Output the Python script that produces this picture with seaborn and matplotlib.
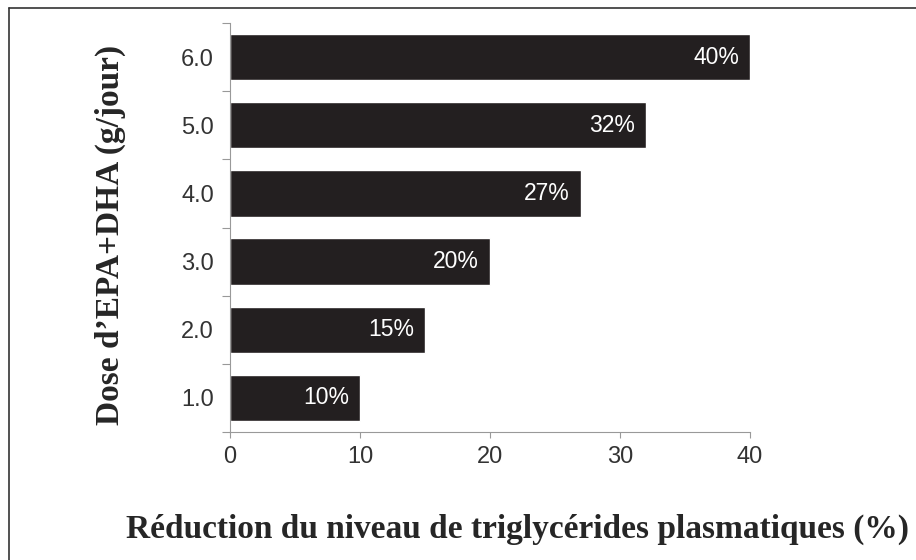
import matplotlib
matplotlib.use("Agg")
import matplotlib.pyplot as plt
from matplotlib.lines import Line2D
import seaborn as sns
import pandas as pd

# data
doses = ["6.0", "5.0", "4.0", "3.0", "2.0", "1.0"]
reduction = [40, 32, 27, 20, 15, 10]
bar_labels = ["40%", "32%", "27%", "20%", "15%", "10%"]
x_ticks = [0, 10, 20, 30, 40]

df = pd.DataFrame({"dose": doses, "reduction": reduction})

sns.set_style("white")
plt.rcParams["font.family"] = ["Liberation Sans", "DejaVu Sans"]

fig = plt.figure(figsize=(9.16, 5.6), dpi=100)
ax = fig.add_axes([230 / 916, 1 - 432 / 560, 520 / 916, 409 / 560])

sns.barplot(data=df, x="reduction", y="dose", order=doses, color="#231f20",
            saturation=1, width=0.68, orient="h", ax=ax)

for p, lab in zip(ax.patches, bar_labels):
    ax.text(p.get_x() + p.get_width() - 0.85, p.get_y() + p.get_height() / 2, lab,
            color="white", fontsize=16.5, ha="right", va="center")

ax.set_xlim(0, 40)
ax.set_ylim(len(doses) - 0.5, -0.5)
ax.set_xticks(x_ticks)
ax.set_xlabel("")
ax.set_ylabel("")

# ticks on category boundaries, labels at centres
ax.set_yticks([i - 0.5 for i in range(len(doses) + 1)], minor=True)
ax.tick_params(axis="y", which="major", length=0, pad=11.5, labelsize=17, labelcolor="#333333")
ax.tick_params(axis="y", which="minor", length=6, width=0.8, color="#999999", left=True)
ax.tick_params(axis="x", which="major", length=4, width=0.8, color="#999999", bottom=True,
               pad=6, labelsize=17, labelcolor="#333333")

for s in ["top", "right"]:
    ax.spines[s].set_visible(False)
for s in ["left", "bottom"]:
    ax.spines[s].set_color("#999999")
    ax.spines[s].set_linewidth(0.8)

serif = ["Liberation Serif", "DejaVu Serif"]
fig.text(110 / 916, 1 - 235 / 560, "Dose d\u2019EPA+DHA (g/jour)", rotation=90,
         ha="center", va="center", fontsize=24, fontweight="bold", family=serif)
fig.text(517 / 916, 1 - 538 / 560, "Réduction du niveau de triglycérides plasmatiques (%)",
         ha="center", va="baseline", fontsize=24, fontweight="bold", family=serif)

# partial frame round the picture
fig.add_artist(Line2D([9 / 916, 9 / 916], [0, 1 - 8 / 560], color="#333333", lw=1.2))
fig.add_artist(Line2D([9 / 916, 1], [1 - 8 / 560, 1 - 8 / 560], color="#333333", lw=1.2))

fig.savefig("out.png", dpi=100)
